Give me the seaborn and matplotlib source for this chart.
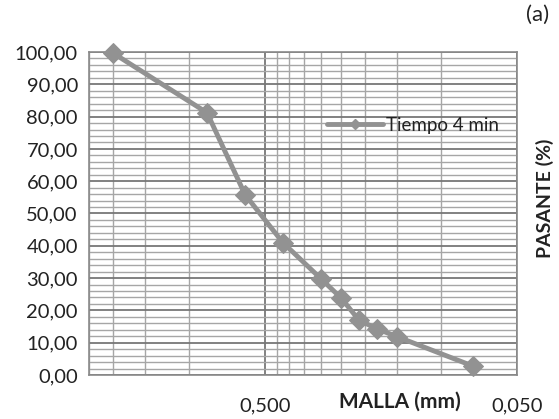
import matplotlib
matplotlib.use("Agg")
import matplotlib.pyplot as plt
import matplotlib.ticker as mticker
import numpy as np
import pandas as pd
import seaborn as sns
from matplotlib.lines import Line2D

# Data
malla_mm = [2.0, 0.85, 0.6, 0.425, 0.3, 0.25, 0.212, 0.18, 0.15, 0.075]
pasante = [99.6, 81.2, 55.8, 41.0, 29.8, 23.9, 17.0, 14.3, 11.9, 2.8]
serie = "Tiempo 4 min"
x_major = [0.5, 0.05]
x_major_labels = ["0,500", "0,050"]
x_minor = [0.1, 0.15, 0.2, 0.25, 0.3, 0.35, 0.4, 0.45, 1.0, 1.5, 2.0, 2.5]
y_major = [0, 10, 20, 30, 40, 50, 60, 70, 80, 90, 100]

df = pd.DataFrame({"MALLA": malla_mm, "PASANTE": pasante, "Serie": serie})

sns.set_style("white")
plt.rcParams["font.family"] = ["Lato", "DejaVu Sans"]

fig = plt.figure(figsize=(5.59, 4.19), dpi=100)
ax = fig.add_axes([89/559, 1-375/419, (517-89)/559, (375-52)/419])

line_col = "#929292"
sns.lineplot(data=df, x="MALLA", y="PASANTE", hue="Serie", palette=[line_col],
             marker="D", markersize=10.5, markeredgecolor=line_col, linewidth=3.5,
             ax=ax, legend=False, zorder=5, clip_on=False)

ax.set_xscale("log")
ax.set_xlim(2.5, 0.05)
ax.set_ylim(0, 100)

ax.xaxis.set_major_locator(mticker.FixedLocator(x_major))
ax.xaxis.set_major_formatter(mticker.FixedFormatter(x_major_labels))
ax.xaxis.set_minor_locator(mticker.FixedLocator(x_minor))
ax.xaxis.set_minor_formatter(mticker.NullFormatter())
ax.yaxis.set_major_locator(mticker.FixedLocator(y_major))
ax.yaxis.set_minor_locator(mticker.MultipleLocator(2))
ax.yaxis.set_major_formatter(mticker.FuncFormatter(lambda v, p: f"{v:.2f}".replace(".", ",")))

ax.grid(True, which="major", color="#777777", linewidth=1.3)
ax.grid(True, which="minor", color="#a6a6a6", linewidth=1.0)
ax.set_axisbelow(True)

for s in ax.spines.values():
    s.set_color("#8a8a8a")
    s.set_linewidth(1.2)

ax.tick_params(axis="x", which="major", length=6, color="#7a7a7a", labelsize=14.5,
               labelcolor="#222222", pad=10)
ax.tick_params(axis="x", which="minor", length=0)
ax.tick_params(axis="y", which="major", length=0, labelsize=14.5, labelcolor="#222222", pad=8)
ax.tick_params(axis="y", which="minor", length=0)
ax.set_xlabel("")
ax.set_ylabel("")

h = Line2D([], [], color=line_col, linewidth=3.5, marker="D", markersize=5,
           markeredgecolor=line_col)
leg = ax.legend([h], [serie], loc="upper left", bbox_to_anchor=(0.555, 0.80),
                frameon=False, fontsize=13.5, handlelength=3.0, handletextpad=0.15,
                borderaxespad=0, borderpad=0)
for t in leg.get_texts():
    t.set_color("#222222")

fig.text(400/559, 1-402/419, "MALLA (mm)", ha="center", va="center",
         fontsize=15, fontweight="bold", color="#222222")
fig.text(545/559, 1-198/419, "PASANTE (%)", ha="center", va="center", rotation=90,
         fontsize=14, fontweight="bold", color="#222222")
fig.text(538/559, 1-15/419, "(a)", ha="center", va="center", fontsize=16, color="#222222")

fig.savefig("out.png", dpi=100)
